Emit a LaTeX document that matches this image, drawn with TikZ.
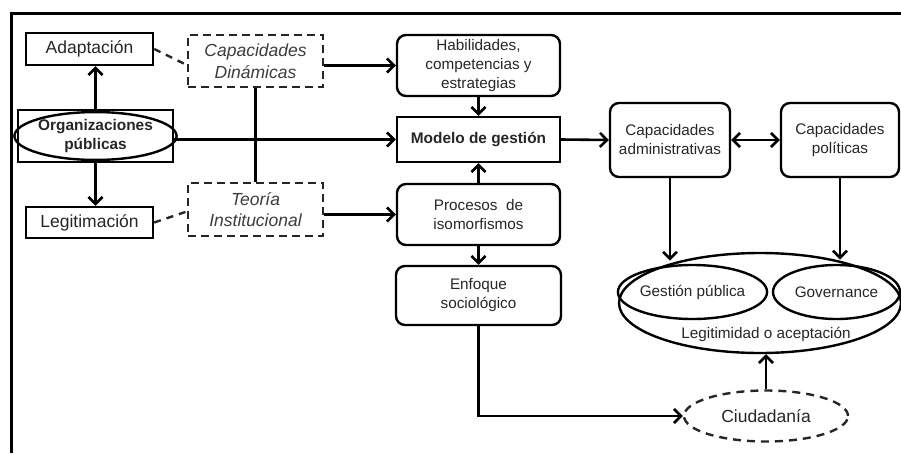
\documentclass[tikz,border=0pt]{standalone}
\usepackage{fontspec}
\setmainfont{Liberation Sans}
\usetikzlibrary{arrows.meta,shapes.geometric}

\definecolor{txt}{HTML}{262626}
\definecolor{itx}{HTML}{3C3C3C}

\tikzset{
  fbig/.style={font=\fontsize{17.5}{22}\selectfont},
  fsmall/.style={font=\fontsize{15.3}{19}\selectfont},
  fbold/.style={font=\fontsize{15.4}{19.5}\selectfont\bfseries},
  fital/.style={font=\fontsize{17.5}{21.5}\selectfont\itshape, text=itx},
  box/.style={draw, line width=2.4pt, align=center, inner sep=1pt, text=txt},
  rbox/.style={box, rounded corners=9pt},
  dbox/.style={box, draw=txt, dash pattern=on 8pt off 5pt},
  oval/.style={box, ellipse},
  arr/.style={line width=2.6pt, -{Straight Barb[length=7pt,width=14pt]}},
  dlink/.style={line width=2.4pt, draw=txt, dash pattern=on 7pt off 6pt},
}

\begin{document}
\begin{tikzpicture}[x=1pt,y=-1pt]
\useasboundingbox (0,0) rectangle (901,453);

% frame
\draw [line width=3pt] (11,453) -- (11,13) -- (901,13);

% left column
\node [box,fbig,minimum width=127pt,minimum height=32pt] (adapt) at (89.5,49) {Adaptación};
\node [box,minimum width=155pt,minimum height=52pt] (org) at (95.5,136) {};
\node [oval,fbold,minimum width=155pt,minimum height=42pt,inner sep=0pt] (orgel) at (org) {Organizaciones\\públicas};
\node [box,fbig,minimum width=127pt,minimum height=31pt] (legit) at (89.5,222.5) {Legitimación};

% theories
\node [dbox,fital,minimum width=135pt,minimum height=52pt] (capdin) at (255.5,61) {Capacidades\\Dinámicas};
\node [dbox,fital,minimum width=135pt,minimum height=53pt] (teoria) at (255.5,209.5) {Teoría\\Institucional};

% middle column
\node [rbox,fsmall,minimum width=163pt,minimum height=61pt] (habil) at (478.5,65.5) {Habilidades,\\competencias y\\estrategias};
\node [box,fbold,minimum width=163pt,minimum height=45pt] (modelo) at (478.5,139.5) {Modelo de gestión};
\node [rbox,fsmall,minimum width=163pt,minimum height=61pt] (proc) at (478.5,214.5) {Procesos~ de\\isomorfismos};
\node [rbox,fsmall,minimum width=165pt,minimum height=59pt] (enfoque) at (478.5,295.5) {Enfoque\\sociológico};

% right side
\node [rbox,fsmall,minimum width=120pt,minimum height=74pt] (capadm) at (670,140) {Capacidades\\administrativas};
\node [rbox,fsmall,minimum width=118pt,minimum height=74pt] (cappol) at (840,140) {Capacidades\\políticas};

\node [oval,minimum width=282pt,minimum height=100pt] (legitim) at (760,303) {};
\node [oval,fsmall,minimum width=133pt,minimum height=54pt,inner sep=0pt] (gestion) at (692.5,292) {Gestión pública};
\node [oval,fsmall,minimum width=127pt,minimum height=54pt,inner sep=0pt] (govern) at (836.5,292) {Governance};
\node [fsmall,text=txt] (legtxt) at (766,334) {Legitimidad o aceptación};

\node [oval,fbig,dash pattern=on 8pt off 6pt,draw=txt,minimum width=164pt,minimum height=51pt,inner sep=0pt] (ciudad) at (766,416) {Ciudadanía};

% connectors
\draw [arr] (org.north) -- (adapt.south -| org.north);
\draw [arr] (org.south) -- (legit.north -| org.south);
\draw [dlink] (adapt.east) -- ([yshift=-4pt]capdin.west);
\draw [dlink] (legit.east) -- ([yshift=-2pt]teoria.west);
\draw [line width=2.4pt] (capdin.south) -- (teoria.north);

\draw [arr] (org.east |- modelo.west) -- (modelo.west);
\draw [arr] (capdin.east |- habil.west) -- (habil.west);
\draw [arr] (teoria.east |- proc.west) -- (proc.west);

\draw [arr] (habil.south) -- (modelo.north);
\draw [arr] (proc.north) -- (modelo.south);
\draw [arr] (proc.south) -- (enfoque.north);

\draw [arr] (modelo.east) -- (capadm.west);
\draw [arr, {Straight Barb[length=7pt,width=14pt]}-{Straight Barb[length=7pt,width=14pt]}] (capadm.east) -- (cappol.west);
\draw [arr] (capadm.south) -- (capadm.south |- legitim.152);
\draw [arr] (cappol.south) -- (cappol.south |- legitim.30);

\draw [arr] (enfoque.south) |- (ciudad.west);
\draw [arr] (ciudad.north) -- (ciudad.north |- legitim.south);
\end{tikzpicture}
\end{document}
